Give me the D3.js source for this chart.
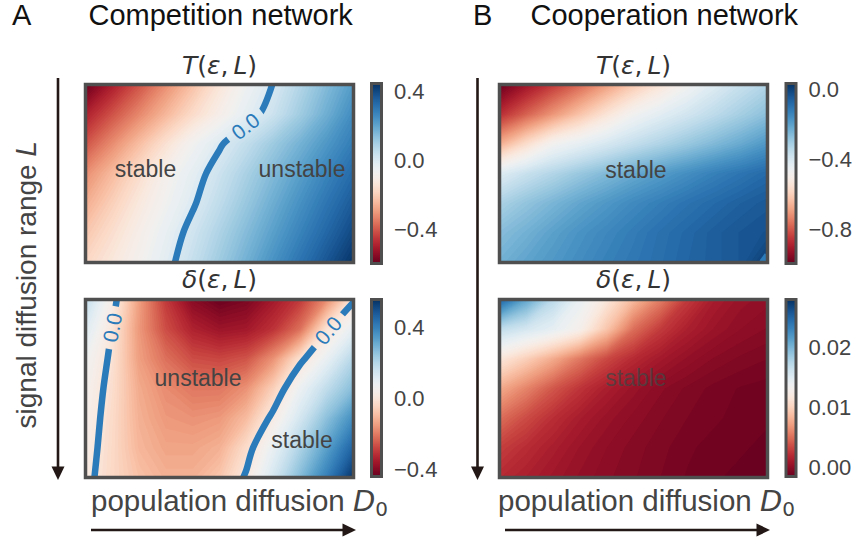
<!DOCTYPE html>
<html>
<head>
<meta charset="utf-8">
<script src="https://cdn.jsdelivr.net/npm/d3@7"></script>
<style>
  html, body { margin: 0; padding: 0; background: #fff; }
  svg { display: block; }
</style>
</head>
<body>
<svg id="fig" width="860" height="544"></svg>
<script>
// ---------------------------------------------------------------------------
// Sampled fields: 11 columns (population diffusion D0, low → high, left → right)
// by 7 rows (signal diffusion range L, short → long, top → bottom), row-major.
// ---------------------------------------------------------------------------
const nCols = 11, nRows = 7;

// Competition network, T(ε, L)
const competitionT = [
  -0.600, -0.500, -0.410, -0.320, -0.233, -0.142, -0.062,  0.002,  0.075,  0.150,  0.220,
  -0.493, -0.410, -0.330, -0.250, -0.170, -0.100, -0.030,  0.030,  0.105,  0.180,  0.255,
  -0.407, -0.322, -0.237, -0.152, -0.070, -0.008,  0.049,  0.110,  0.170,  0.230,  0.290,
  -0.320, -0.243, -0.166, -0.089, -0.030,  0.030,  0.091,  0.152,  0.212,  0.272,  0.330,
  -0.267, -0.198, -0.129, -0.068, -0.008,  0.055,  0.118,  0.182,  0.244,  0.305,  0.365,
  -0.220, -0.160, -0.101, -0.040,  0.022,  0.085,  0.148,  0.211,  0.274,  0.337,  0.400,
  -0.180, -0.131, -0.082, -0.022,  0.043,  0.109,  0.175,  0.242,  0.308,  0.374,  0.440
];
// Competition network, δ(ε, L)
const competitionDelta = [
   0.180,  0.030, -0.150, -0.300, -0.400, -0.440, -0.420, -0.360, -0.300, -0.180, -0.010,
   0.120, -0.002, -0.160, -0.270, -0.340, -0.370, -0.360, -0.310, -0.220, -0.010,  0.100,
   0.070, -0.015, -0.150, -0.220, -0.270, -0.280, -0.260, -0.170, -0.020,  0.090,  0.200,
   0.050, -0.025, -0.130, -0.180, -0.210, -0.210, -0.170, -0.060,  0.080,  0.180,  0.270,
   0.040, -0.033, -0.120, -0.160, -0.170, -0.160, -0.100,  0.020,  0.140,  0.260,  0.370,
   0.030, -0.037, -0.110, -0.140, -0.140, -0.120, -0.030,  0.090,  0.210,  0.330,  0.460,
   0.020, -0.040, -0.090, -0.120, -0.120, -0.080,  0.010,  0.140,  0.270,  0.400,  0.550
];
// Cooperation network, T(ε, L)
const cooperationT = [
  -1.000, -0.920, -0.850, -0.780, -0.700, -0.620, -0.550, -0.480, -0.420, -0.370, -0.330,
  -0.870, -0.790, -0.710, -0.630, -0.550, -0.476, -0.430, -0.390, -0.350, -0.310, -0.270,
  -0.670, -0.570, -0.479, -0.440, -0.400, -0.360, -0.325, -0.290, -0.255, -0.220, -0.180,
  -0.420, -0.370, -0.330, -0.290, -0.255, -0.220, -0.190, -0.160, -0.130, -0.105, -0.080,
  -0.320, -0.280, -0.245, -0.210, -0.180, -0.150, -0.125, -0.100, -0.080, -0.060, -0.045,
  -0.265, -0.235, -0.200, -0.170, -0.145, -0.120, -0.095, -0.075, -0.055, -0.040, -0.030,
  -0.235, -0.205, -0.180, -0.155, -0.130, -0.110, -0.090, -0.070, -0.055, -0.040,  0.010
];
// Cooperation network, δ(ε, L)
const cooperationDelta = [
  0.0250, 0.0209, 0.0171, 0.0141, 0.0115, 0.0085, 0.0057, 0.0028, 0.0012, 0.0005, 0.0002,
  0.0168, 0.0156, 0.0144, 0.0127, 0.0091, 0.0050, 0.0028, 0.0014, 0.0006, 0.0001, -0.0002,
  0.0115, 0.0097, 0.0077, 0.0054, 0.0034, 0.0020, 0.0010, 0.0003, -0.0002, -0.0005, -0.0007,
  0.0077, 0.0059, 0.0040, 0.0025, 0.0013, 0.0005, -0.0001, -0.0005, -0.0008, -0.0010, -0.0011,
  0.0050, 0.0035, 0.0022, 0.0012, 0.0005, 0.0000, -0.0004, -0.0007, -0.0009, -0.0011, -0.0012,
  0.0030, 0.0021, 0.0013, 0.0006, 0.0001, -0.0003, -0.0006, -0.0009, -0.0011, -0.0012, -0.0013,
  0.0020, 0.0014, 0.0008, 0.0003, -0.0001, -0.0004, -0.0007, -0.0010, -0.0012, -0.0013, -0.0014
];

// Colour ranges of the colour bars
const competitionTRange = [-0.600, 0.446];
const competitionDeltaRange = [-0.444, 0.556];
const cooperationTRange = [-1.000, 0.034];
const cooperationDeltaRange = [-0.0015, 0.0278];

// Colour bar tick values
const competitionTTicks = [-0.4, 0.0, 0.4];
const competitionDeltaTicks = [-0.4, 0.0, 0.4];
const cooperationTTicks = [-0.8, -0.4, 0.0];
const cooperationDeltaTicks = [0.00, 0.01, 0.02];

// Contour levels drawn on each map
const competitionTLevels = [0];
const competitionDeltaLevels = [0];
const cooperationTLevels = [0];
const cooperationDeltaLevels = [];

// Where the inline contour labels sit (D0 fraction, L fraction)
const competitionTLabelAt = [[0.595, 0.228]];
const competitionDeltaLabelAt = [[0.091, 0.155], [0.900, 0.170]];

// Region annotations: text, D0 fraction, L fraction (baseline)
const competitionTNotes = [["stable", 0.224, 0.522], ["unstable", 0.808, 0.522]];
const competitionDeltaNotes = [["unstable", 0.420, 0.486], ["stable", 0.808, 0.834]];
const cooperationTNotes = [["stable", 0.509, 0.525]];
const cooperationDeltaNotes = [["stable", 0.509, 0.486]];

// Figure text
const panelLetters = ["A", "B"];
const panelTitles = ["Competition network", "Cooperation network"];
const xLabel = "population diffusion ";
const yLabel = "signal diffusion range ";

// ---------------------------------------------------------------------------
const svg = d3.select("#fig");
const defs = svg.append("defs");
const SANS = "'Liberation Sans', Arial, Helvetica, sans-serif";
const MATH = "'DejaVu Sans', sans-serif";
const frameGrey = "#4f4f4f";
const contourBlue = "#2b7bba";
const inkDark = "#231815";

// Map a d3.contours grid coordinate back to a node index (node i sits at i + 0.5)
const nodeX = c => (c - 0.5) / (nCols - 1);
const nodeY = c => (c - 0.5) / (nRows - 1);

// Open iso-lines of a sampled field: the threshold ring split where it runs
// along the outer padding of the grid.
function isoLines(values, level) {
  const mp = d3.contours().size([nCols, nRows]).thresholds([level])(values)[0];
  const onEdge = ([a, b]) => a <= 0 || a >= nCols || b <= 0 || b >= nRows;
  const out = [];
  for (const polygon of mp.coordinates) {
    for (const ring of polygon) {
      const pts = ring.slice(0, -1);
      const k = pts.findIndex(onEdge);
      if (k < 0) { out.push(ring.slice()); continue; }
      const rot = pts.slice(k).concat(pts.slice(0, k));
      let run = [];
      for (const pt of rot) {
        if (onEdge(pt)) { if (run.length > 1) out.push(run); run = []; }
        else run.push(pt);
      }
      if (run.length > 1) out.push(run);
    }
  }
  return out;
}

function mathText(sel, parts) {
  parts.forEach(([s, it]) => sel.append("tspan").attr("font-style", it ? "italic" : "normal").text(s));
}

function drawPanel(p) {
  const [bx, by, bw, bh] = p.box;
  const x = d3.scaleLinear().domain([0, 1]).range([bx, bx + bw]);
  const y = d3.scaleLinear().domain([0, 1]).range([by, by + bh]);
  const color = d3.scaleSequential(d3.interpolateRdBu).domain(p.range);
  const px = c => x(nodeX(c));
  const py = c => y(nodeY(c));
  const geo = d3.geoPath(d3.geoTransform({
    point(a, b) { this.stream.point(px(a), py(b)); }
  }));

  defs.append("clipPath").attr("id", `clip-${p.id}`)
    .append("rect").attr("x", bx).attr("y", by).attr("width", bw).attr("height", bh);

  const g = svg.append("g").attr("clip-path", `url(#clip-${p.id})`);

  // filled colour bands
  const nBands = 110;
  const step = (p.range[1] - p.range[0]) / nBands;
  const thresholds = d3.range(1, nBands).map(i => p.range[0] + i * step);
  g.append("rect").attr("x", bx).attr("y", by).attr("width", bw).attr("height", bh)
    .attr("fill", color(p.range[0] + step / 2));
  g.selectAll("path.band")
    .data(d3.contours().size([nCols, nRows]).thresholds(thresholds)(p.values))
    .join("path")
    .attr("class", "band")
    .attr("d", geo)
    .attr("fill", d => color(d.value + step / 2));

  // contour lines with inline labels
  const maskId = `mask-${p.id}`;
  const mask = defs.append("mask").attr("id", maskId)
    .attr("maskUnits", "userSpaceOnUse")
    .attr("x", bx - 20).attr("y", by - 20).attr("width", bw + 40).attr("height", bh + 40);
  mask.append("rect").attr("x", bx - 20).attr("y", by - 20)
    .attr("width", bw + 40).attr("height", bh + 40).attr("fill", "white");

  const curve = d3.line().curve(d3.curveCatmullRom.alpha(0.5));
  const lineG = g.append("g").attr("mask", `url(#${maskId})`);
  const labelG = g.append("g");
  const fmt = d3.format(".1f");

  p.levels.forEach(level => {
    const lines = isoLines(p.values, level).map(l => l.map(([a, b]) => [px(a), py(b)]));
    const paths = lineG.selectAll(null).data(lines).join("path")
      .attr("d", curve)
      .attr("fill", "none")
      .attr("stroke", contourBlue)
      .attr("stroke-width", 6.5);

    (p.labelAt || []).forEach(([fx, fy]) => {
      const tx = x(fx), ty = y(fy);
      let best = null;
      paths.each(function () {
        const L = this.getTotalLength();
        if (L < 60) return;
        for (let s = 0; s <= L; s += 1) {
          const q = this.getPointAtLength(s);
          const d = (q.x - tx) ** 2 + (q.y - ty) ** 2;
          if (!best || d < best.d) best = { d, s, el: this, L };
        }
      });
      if (!best) return;
      const a = best.el.getPointAtLength(Math.max(0, best.s - 5));
      const b = best.el.getPointAtLength(Math.min(best.L, best.s + 5));
      const c = best.el.getPointAtLength(best.s);
      let ang = Math.atan2(b.y - a.y, b.x - a.x) * 180 / Math.PI;
      if (ang > 90) ang -= 180;
      if (ang <= -90) ang += 180;
      const tf = `translate(${c.x},${c.y}) rotate(${ang})`;
      const t = labelG.append("text")
        .attr("transform", tf)
        .attr("text-anchor", "middle")
        .attr("dy", "0.36em")
        .attr("font-family", SANS)
        .attr("font-size", 21)
        .attr("fill", contourBlue)
        .text(fmt(level));
      const tw = t.node().getComputedTextLength();
      mask.append("rect")
        .attr("transform", tf)
        .attr("x", -tw / 2 - 7).attr("y", -10)
        .attr("width", tw + 14).attr("height", 20)
        .attr("fill", "black");
    });
  });

  // region annotations
  svg.append("g").selectAll("text").data(p.notes).join("text")
    .attr("x", d => x(d[1]))
    .attr("y", d => y(d[2]))
    .attr("text-anchor", "middle")
    .attr("font-family", SANS)
    .attr("font-size", 23)
    .attr("fill", "#444")
    .attr("fill-opacity", p.noteOpacity)
    .text(d => d[0]);

  // frame
  svg.append("rect").attr("x", bx).attr("y", by).attr("width", bw).attr("height", bh)
    .attr("fill", "none").attr("stroke", frameGrey).attr("stroke-width", 3.5);

  // colour bar
  const [cx, cy, cw, ch] = p.bar;
  const cScale = d3.scaleLinear().domain(p.range).range([cy + ch, cy]);
  const gradId = `grad-${p.id}`;
  const grad = defs.append("linearGradient").attr("id", gradId)
    .attr("x1", 0).attr("y1", 1).attr("x2", 0).attr("y2", 0);
  d3.range(0, 1.0001, 0.02).forEach(f => {
    grad.append("stop").attr("offset", f)
      .attr("stop-color", color(p.range[0] + f * (p.range[1] - p.range[0])));
  });
  svg.append("rect").attr("x", cx).attr("y", cy).attr("width", cw).attr("height", ch)
    .attr("fill", `url(#${gradId})`).attr("stroke", frameGrey).attr("stroke-width", 3);
  const tf = d3.format(p.tickFmt);
  svg.append("g").selectAll("text").data(p.ticks).join("text")
    .attr("x", cx + cw + 12.5)
    .attr("y", d => cScale(d))
    .attr("dy", "0.36em")
    .attr("font-family", SANS)
    .attr("font-size", 22)
    .attr("fill", "#444")
    .text(d => tf(d));

  // map title
  const st = svg.append("text")
    .attr("x", bx + bw / 2)
    .attr("y", p.titleY)
    .attr("text-anchor", "middle")
    .attr("font-family", MATH)
    .attr("font-size", 25)
    .attr("fill", "#333");
  mathText(st, p.title);
}

const tTitle = [["T", 1], ["(", 0], ["ε", 1], [",\u2009", 0], ["L", 1], [")", 0]];
const dTitle = [["δ", 1], ["(", 0], ["ε", 1], [",\u2009", 0], ["L", 1], [")", 0]];

[
  { id: "cT", values: competitionT, range: competitionTRange, levels: competitionTLevels,
    labelAt: competitionTLabelAt, notes: competitionTNotes, ticks: competitionTTicks, tickFmt: ".1f",
    title: tTitle, titleY: 74, box: [85.5, 84.5, 268, 178], bar: [371.5, 83.5, 10, 180], noteOpacity: 1 },
  { id: "cD", values: competitionDelta, range: competitionDeltaRange, levels: competitionDeltaLevels,
    labelAt: competitionDeltaLabelAt, notes: competitionDeltaNotes, ticks: competitionDeltaTicks, tickFmt: ".1f",
    title: dTitle, titleY: 288, box: [85.5, 299.5, 268, 178], bar: [371.5, 299.5, 10, 177], noteOpacity: 1 },
  { id: "kT", values: cooperationT, range: cooperationTRange, levels: cooperationTLevels,
    labelAt: [], notes: cooperationTNotes, ticks: cooperationTTicks, tickFmt: ".1f",
    title: tTitle, titleY: 74, box: [499.5, 84.5, 268, 178], bar: [786, 83.5, 10, 180], noteOpacity: 1 },
  { id: "kD", values: cooperationDelta, range: cooperationDeltaRange, levels: cooperationDeltaLevels,
    labelAt: [], notes: cooperationDeltaNotes, ticks: cooperationDeltaTicks, tickFmt: ".2f",
    title: dTitle, titleY: 288, box: [499.5, 299.5, 268, 178], bar: [786, 299.5, 10, 177], noteOpacity: 0.75 }
].forEach(drawPanel);

// Panel headings
[[12, 88.5], [473, 530.5]].forEach(([lx, tx], i) => {
  svg.append("text").attr("x", lx).attr("y", 25).attr("font-family", SANS)
    .attr("font-size", 29).attr("fill", "#111").text(panelLetters[i]);
  svg.append("text").attr("x", tx).attr("y", 25).attr("font-family", SANS)
    .attr("font-size", 29).attr("fill", "#111").text(panelTitles[i]);
});

// Axis direction arrows
function arrow(x1, y1, x2, y2) {
  const ang = Math.atan2(y2 - y1, x2 - x1);
  const hl = 13.5, hw = 6.5;
  const bx = x2 - hl * Math.cos(ang), by = y2 - hl * Math.sin(ang);
  svg.append("line").attr("x1", x1).attr("y1", y1).attr("x2", bx + Math.cos(ang)).attr("y2", by + Math.sin(ang))
    .attr("stroke", inkDark).attr("stroke-width", 2.6);
  svg.append("path")
    .attr("d", `M${x2},${y2}L${bx - hw * Math.sin(ang)},${by + hw * Math.cos(ang)}L${bx + hw * Math.sin(ang)},${by - hw * Math.cos(ang)}Z`)
    .attr("fill", inkDark);
}
arrow(58, 78, 58, 480);
arrow(477.5, 78, 477.5, 480);
arrow(91, 530, 356, 530);
arrow(505, 530, 770, 530);

// Axis labels
[91, 498].forEach(lx => {
  const t = svg.append("text").attr("x", lx).attr("y", 511)
    .attr("font-family", SANS).attr("font-size", 29.5).attr("fill", "#444");
  t.append("tspan").text(xLabel);
  t.append("tspan").attr("font-family", MATH).attr("font-style", "italic").attr("font-size", 29).text("D");
  t.append("tspan").attr("font-family", MATH).attr("font-size", 20).attr("dy", 5).text("0");
});
{
  const t = svg.append("text").attr("transform", "translate(36,285) rotate(-90)")
    .attr("text-anchor", "middle")
    .attr("font-family", SANS).attr("font-size", 28).attr("fill", "#444");
  t.append("tspan").text(yLabel);
  t.append("tspan").attr("font-family", MATH).attr("font-style", "italic").attr("font-size", 27).text("L");
}
</script>
</body>
</html>
